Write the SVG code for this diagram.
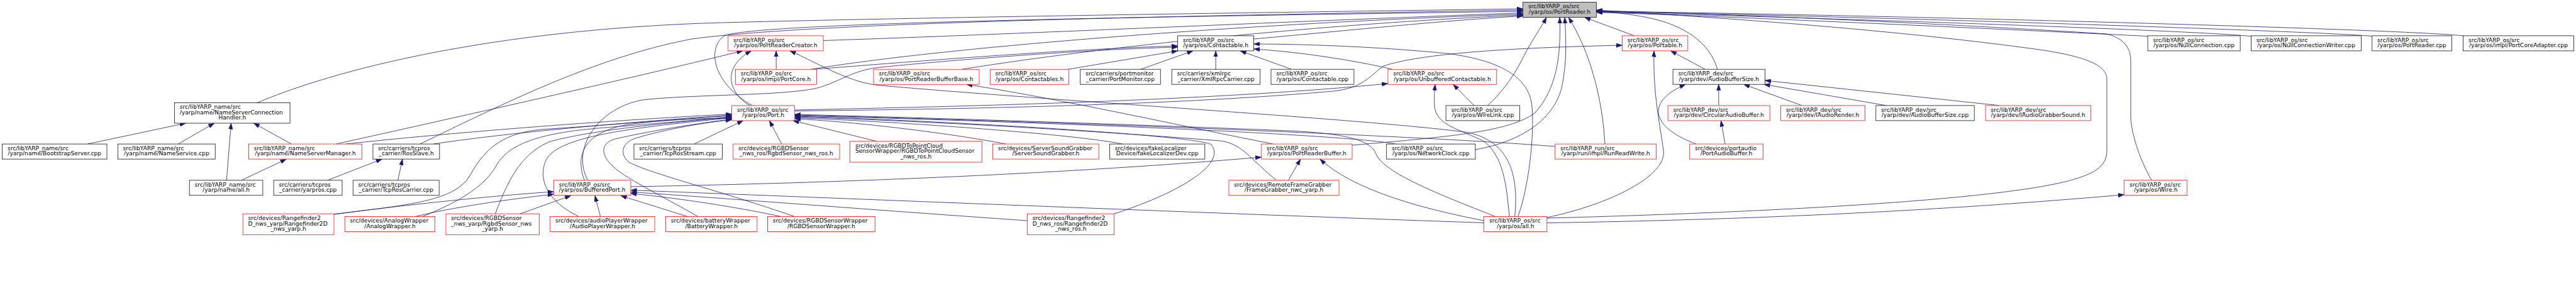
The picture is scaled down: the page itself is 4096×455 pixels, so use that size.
<svg xmlns="http://www.w3.org/2000/svg" width="4096" height="455" viewBox="0 0 4096 455">
<style>
.nd rect{fill:#fff;stroke-width:0.75}
.k rect{stroke:#000}
.r rect{stroke:#f00}
.g rect{fill:#bfbfbf;stroke:#000}
text{font-family:"DejaVu Sans",Verdana,sans-serif;font-size:9.15px;fill:#000}
.c{text-anchor:middle}
#edges path{fill:none;stroke:#191970;stroke-width:0.8;marker-end:url(#ah)}
</style>
<defs>
<marker id="ah" viewBox="0 0 10 7" refX="10" refY="3.5" markerWidth="9.6" markerHeight="6.7" markerUnits="userSpaceOnUse" orient="auto"><path d="M0,0 L10,3.5 L0,7 z" fill="#191970" stroke="#191970" stroke-width="0.5"/></marker>
</defs>
<rect x="0" y="0" width="4096" height="455" fill="#fff"/>
<g id="edges">
<path d="M408.5,163.6 C560,100 820,45 1150,36 S2150,18 2421.6,14"/>
<path d="M668,229.1 C800,165 950,90 1100,62 C1300,35 1900,25 2421.6,16"/>
<path d="M1196,167.9 C1138,135 1122,82 1150,58 C1180,35 1900,26 2421.6,18"/>
<path d="M1309.1,64.5 C1600,55 2100,32 2421.6,20.5"/>
<path d="M1290,110.2 C1500,75 2000,36 2421.6,22.5"/>
<path d="M1295,110.2 C1450,98 1700,78 1872.6,73"/>
<path d="M1234.2,110.2 L1234.2,80.9"/>
<path d="M1529.6,110.2 C1750,75 2100,38 2421.6,24"/>
<path d="M1699,110.2 L1872.6,80.9"/>
<path d="M1814,110.2 L1897,80.9"/>
<path d="M1933.1,110.2 L1933.1,80.9"/>
<path d="M2053.4,110.2 L1972,80.9"/>
<path d="M2214,110.2 C2150,95 2060,82 1993.6,78"/>
<path d="M1993.6,62 C2150,48 2300,32 2421.6,25.5"/>
<path d="M934.5,286.8 C905,230 960,165 1030,158 C1120,150 1230,152 1290,142 C1330,135 1350,112 1400,107 C1550,92 1750,78 1872.6,75"/>
<path d="M929.4,286.8 C915,250 925,210 1000,198 C1060,190 1120,188 1163.6,188.5"/>
<path d="M1002.9,297 C1400,290 1750,272 2005.8,250"/>
<path d="M139,229.1 L295.4,196"/>
<path d="M283.2,229.1 L340.8,196"/>
<path d="M360.2,286.8 L367.5,196"/>
<path d="M463.3,229.1 L403.5,196"/>
<path d="M384,286.8 L455.4,253.1"/>
<path d="M534.6,229.1 C800,170 1000,125 1181,80.9"/>
<path d="M549.7,229.1 C650,218 900,195 1163.6,181.5"/>
<path d="M689.5,229.1 C800,212 1000,194 1163.6,183"/>
<path d="M520.9,286.8 L607.4,253.1"/>
<path d="M632.6,286.8 L640,253.1"/>
<path d="M1103.8,229.1 L1181.6,191.9"/>
<path d="M1242.9,229.1 L1223.4,191.9"/>
<path d="M1394.1,224.8 L1261,191.9"/>
<path d="M1192,167.9 C1155,145 1150,105 1194.6,80.9"/>
<path d="M1263.7,175 C1600,168 1950,158 2206.9,133"/>
<path d="M1263.7,176.5 C1700,172 1950,160 2120,145 C2170,140 2180,118 2200,105 C2260,85 2400,76 2579.4,72"/>
<path d="M1599.5,229.1 C1500,210 1350,193 1263.7,189"/>
<path d="M1784.7,229.1 C1700,212 1400,192 1263.7,187.5"/>
<path d="M1771.7,340.1 C1880,305 1950,260 1926,230 C1900,215 1500,192 1263.7,185"/>
<path d="M2029.6,286.8 C1990,255 1975,228 1940,224 C1700,205 1450,192 1263.7,186"/>
<path d="M2048.5,286.8 L2067.9,253.1"/>
<path d="M2024.6,229.1 C1900,205 1700,160 1536.8,134.2"/>
<path d="M2150,231 C2300,218 2400,210 2440,180 C2478,140 2482,80 2480,27.6"/>
<path d="M2345.9,238 C2420,225 2470,190 2483,140 C2492,100 2490,60 2488,27.6"/>
<path d="M2219,229.1 C2150,215 1700,195 1263.7,184"/>
<path d="M2552,229.1 C2548,160 2530,85 2494,27.6"/>
<path d="M2472.7,233 C2250,215 1650,193 1263.7,183"/>
<path d="M2343.8,167.9 L2310.6,134.2"/>
<path d="M2365.4,167.9 C2385,150 2405,125 2420,95 C2435,65 2450,45 2459,27.6"/>
<path d="M2598.8,56.9 L2519.5,27.6"/>
<path d="M2711.2,110.2 L2656.5,80.9"/>
<path d="M2730.7,110.2 C2720,70 2680,40 2620,28 C2590,22 2560,19 2538.3,17.5"/>
<path d="M2732.8,167.9 L2732.8,134.2"/>
<path d="M2743,229.1 L2736.4,191.9"/>
<path d="M2696.8,229.1 C2620,200 2620,160 2680.2,134.2"/>
<path d="M2865.4,167.9 L2772.6,134.2"/>
<path d="M2999.4,167.9 L2804.9,134.2"/>
<path d="M3179.5,167.9 L2806.3,128"/>
<path d="M3415.1,57.6 C3300,52 2800,28 2538.3,19.5"/>
<path d="M3579.4,57.6 C3450,46 2800,26 2538.3,19"/>
<path d="M3771.8,57.6 C3700,50 2900,24 2538.3,18.5"/>
<path d="M3916.6,56.9 C3800,45 2900,22 2538.3,18"/>
<path d="M3421,286.8 C3395,240 3388,200 3388,185 L3388,96 C3388,75 3375,60 3350,54 C3100,38 2750,22 2538.3,17"/>
<path d="M2459.8,347 C2800,338 3150,320 3280,290 C3330,278 3350,265 3350,240 L3350,125 C3350,100 3300,88 3250,80 C3000,45 2700,26 2538.3,16"/>
<path d="M2459.8,354.5 C2900,348 3200,325 3377.7,309.8"/>
<path d="M2459.8,346 C2560,325 2650,280 2645,240 C2640,200 2628,150 2630,80.9"/>
<path d="M2413.7,344.4 C2430,300 2440,220 2436,170 C2432,120 2380,95 2300,85 C2200,75 2080,70 1993.6,70"/>
<path d="M2400,344.4 C2395,290 2390,250 2360,225 C2320,205 2285,200 2281,170 C2280,155 2281,145 2282,134.2"/>
<path d="M2408.6,344.4 C2416,270 2395,222 2330,210 C2150,188 1700,162 1400,136 C1350,132 1300,100 1256,80.9"/>
<path d="M2377.6,344.4 C2290,310 2200,275 2188,245 C2180,225 2150,213 2050,208 C1800,198 1500,188 1263.7,182"/>
<path d="M2359.6,351 C2250,330 2150,300 2098.8,253.1"/>
<path d="M2359.6,354.5 C2000,342 1400,318 1002.9,302.5"/>
<path d="M1633.4,351 C1400,335 1150,315 1002.9,305.5"/>
<path d="M1241.4,344.4 C1150,325 1050,312 1002.9,308"/>
<path d="M1263,344.4 C1150,305 1030,275 1000,258 C985,245 988,228 1010,220 C1060,205 1120,195 1163.6,190.5"/>
<path d="M1093,344.4 L987,311.3"/>
<path d="M1109.6,344.4 C1050,310 990,282 972,262 C955,245 955,228 978,221 C1050,205 1120,195 1163.6,189.5"/>
<path d="M531,341 C650,325 800,310 880.4,305"/>
<path d="M531,340.8 C650,326 725,320 748,278 C771,236 800,212 860,206 C950,200 1080,190 1163.6,184"/>
<path d="M660.7,344.4 C720,330 800,318 880.4,309"/>
<path d="M672,344.4 C720,325 770,300 790,262 C810,228 860,212 950,204 C1050,196 1120,190 1163.6,185.5"/>
<path d="M827.1,340.1 L907.8,311.3"/>
<path d="M787.5,340.1 C805,295 825,245 875,225 C950,205 1080,194 1163.6,186.5"/>
<path d="M954.7,344.4 L946,311.3"/>
<path d="M920,344.4 C870,320 855,285 868,255 C885,220 980,205 1163.6,187.5"/>
</g>
<g id="n_root" class="nd g"><rect x="2421.6" y="3.6" width="116.7" height="24"/><text><tspan x="2429.9" y="13.4">src/libYARP_os/src</tspan><tspan class="c" x="2480" y="21.9">/yarp/os/PortReader.h</tspan></text></g>
<g id="n_prc" class="nd r"><rect x="1157.8" y="56.9" width="151.3" height="24"/><text><tspan x="1166.1" y="66.7">src/libYARP_os/src</tspan><tspan class="c" x="1233.5" y="75.2">/yarp/os/PortReaderCreator.h</tspan></text></g>
<g id="n_contactable_h" class="nd k"><rect x="1872.6" y="56.9" width="121" height="24"/><text><tspan x="1880.9" y="66.7">src/libYARP_os/src</tspan><tspan class="c" x="1933.1" y="75.2">/yarp/os/Contactable.h</tspan></text></g>
<g id="n_portable" class="nd r"><rect x="2579.4" y="56.9" width="104.4" height="24"/><text><tspan x="2587.7" y="66.7">src/libYARP_os/src</tspan><tspan class="c" x="2631.6" y="75.2">/yarp/os/Portable.h</tspan></text></g>
<g id="n_nullconn" class="nd k"><rect x="3415.1" y="56.9" width="147" height="24"/><text><tspan x="3423.4" y="66.7">src/libYARP_os/src</tspan><tspan class="c" x="3488.6" y="75.2">/yarp/os/NullConnection.cpp</tspan></text></g>
<g id="n_ncw" class="nd k"><rect x="3579.4" y="56.9" width="175.1" height="24"/><text><tspan x="3587.7" y="66.7">src/libYARP_os/src</tspan><tspan class="c" x="3667" y="75.2">/yarp/os/NullConnectionWriter.cpp</tspan></text></g>
<g id="n_portreader_cpp" class="nd k"><rect x="3771.8" y="56.9" width="126.8" height="24"/><text><tspan x="3780.1" y="66.7">src/libYARP_os/src</tspan><tspan class="c" x="3835.2" y="75.2">/yarp/os/PortReader.cpp</tspan></text></g>
<g id="n_pca" class="nd k"><rect x="3916.6" y="56.9" width="175.8" height="24"/><text><tspan x="3924.9" y="66.7">src/libYARP_os/src</tspan><tspan class="c" x="4004.5" y="75.2">/yarp/os/impl/PortCoreAdapter.cpp</tspan></text></g>
<g id="n_portcore" class="nd r"><rect x="1169.4" y="110.2" width="129" height="24"/><text><tspan x="1177.7" y="120">src/libYARP_os/src</tspan><tspan class="c" x="1233.9" y="128.5">/yarp/os/impl/PortCore.h</tspan></text></g>
<g id="n_prbb" class="nd r"><rect x="1389.1" y="110.2" width="167.9" height="24"/><text><tspan x="1397.4" y="120">src/libYARP_os/src</tspan><tspan class="c" x="1473.1" y="128.5">/yarp/os/PortReaderBufferBase.h</tspan></text></g>
<g id="n_contactables" class="nd r"><rect x="1574.3" y="110.2" width="125.4" height="24"/><text><tspan x="1582.6" y="120">src/libYARP_os/src</tspan><tspan class="c" x="1637" y="128.5">/yarp/os/Contactables.h</tspan></text></g>
<g id="n_portmonitor" class="nd k"><rect x="1717.7" y="110.2" width="127.5" height="24"/><text><tspan x="1726" y="120">src/carriers/portmonitor</tspan><tspan class="c" x="1781.5" y="128.5">_carrier/PortMonitor.cpp</tspan></text></g>
<g id="n_xmlrpc" class="nd k"><rect x="1863.2" y="110.2" width="140.5" height="24"/><text><tspan x="1871.5" y="120">src/carriers/xmlrpc</tspan><tspan class="c" x="1933.5" y="128.5">_carrier/XmlRpcCarrier.cpp</tspan></text></g>
<g id="n_contactable_cpp" class="nd k"><rect x="2021" y="110.2" width="131.9" height="24"/><text><tspan x="2029.3" y="120">src/libYARP_os/src</tspan><tspan class="c" x="2087" y="128.5">/yarp/os/Contactable.cpp</tspan></text></g>
<g id="n_unbuffered" class="nd r"><rect x="2206.9" y="110.2" width="172.9" height="24"/><text><tspan x="2215.2" y="120">src/libYARP_os/src</tspan><tspan class="c" x="2293.4" y="128.5">/yarp/os/UnbufferedContactable.h</tspan></text></g>
<g id="n_abs_h" class="nd k"><rect x="2660.1" y="110.2" width="146.3" height="24"/><text><tspan x="2668.4" y="120">src/libYARP_dev/src</tspan><tspan class="c" x="2733.3" y="128.5">/yarp/dev/AudioBufferSize.h</tspan></text></g>
<g id="n_nsch" class="nd k"><rect x="277.4" y="163.6" width="183.7" height="32.4"/><text><tspan x="285.7" y="173.3">src/libYARP_name/src</tspan><tspan x="285.7" y="181.8">/yarp/name/NameServerConnection</tspan><tspan class="c" x="369.3" y="190.3">Handler.h</tspan></text></g>
<g id="n_port" class="nd r"><rect x="1163.6" y="167.9" width="100.1" height="24"/><text><tspan x="1171.9" y="177.7">src/libYARP_os/src</tspan><tspan class="c" x="1213.7" y="186.2">/yarp/os/Port.h</tspan></text></g>
<g id="n_wirelink" class="nd k"><rect x="2299.1" y="167.9" width="117.4" height="24"/><text><tspan x="2307.4" y="177.7">src/libYARP_os/src</tspan><tspan class="c" x="2357.8" y="186.2">/yarp/os/WireLink.cpp</tspan></text></g>
<g id="n_circ" class="nd r"><rect x="2652.1" y="167.9" width="162.1" height="24"/><text><tspan x="2660.4" y="177.7">src/libYARP_dev/src</tspan><tspan class="c" x="2733.2" y="186.2">/yarp/dev/CircularAudioBuffer.h</tspan></text></g>
<g id="n_iaudiorender" class="nd r"><rect x="2831.5" y="167.9" width="134" height="24"/><text><tspan x="2839.8" y="177.7">src/libYARP_dev/src</tspan><tspan class="c" x="2898.5" y="186.2">/yarp/dev/IAudioRender.h</tspan></text></g>
<g id="n_abs_cpp" class="nd k"><rect x="2982.8" y="167.9" width="156.4" height="24"/><text><tspan x="2991.1" y="177.7">src/libYARP_dev/src</tspan><tspan class="c" x="3061" y="186.2">/yarp/dev/AudioBufferSize.cpp</tspan></text></g>
<g id="n_iags" class="nd r"><rect x="3157.2" y="167.9" width="167.1" height="24"/><text><tspan x="3165.5" y="177.7">src/libYARP_dev/src</tspan><tspan class="c" x="3240.8" y="186.2">/yarp/dev/IAudioGrabberSound.h</tspan></text></g>
<g id="n_bootstrap" class="nd k"><rect x="3.6" y="229.1" width="166.4" height="24"/><text><tspan x="11.9" y="238.9">src/libYARP_name/src</tspan><tspan class="c" x="86.8" y="247.4">/yarp/name/BootstrapServer.cpp</tspan></text></g>
<g id="n_nameservice" class="nd k"><rect x="187.3" y="229.1" width="154.9" height="24"/><text><tspan x="195.6" y="238.9">src/libYARP_name/src</tspan><tspan class="c" x="264.8" y="247.4">/yarp/name/NameService.cpp</tspan></text></g>
<g id="n_nsm" class="nd r"><rect x="395.5" y="229.1" width="180.2" height="24"/><text><tspan x="403.8" y="238.9">src/libYARP_name/src</tspan><tspan class="c" x="485.6" y="247.4">/yarp/name/NameServerManager.h</tspan></text></g>
<g id="n_rosslave" class="nd k"><rect x="593" y="229.1" width="105.9" height="24"/><text><tspan x="601.3" y="238.9">src/carriers/tcpros</tspan><tspan class="c" x="646" y="247.4">_carrier/RosSlave.h</tspan></text></g>
<g id="n_tcprosstream" class="nd k"><rect x="1008" y="229.1" width="140.5" height="24"/><text><tspan x="1016.3" y="238.9">src/carriers/tcpros</tspan><tspan class="c" x="1078.3" y="247.4">_carrier/TcpRosStream.cpp</tspan></text></g>
<g id="n_rgbd_nws_ros" class="nd r"><rect x="1165.8" y="229.1" width="169.3" height="24"/><text><tspan x="1174.1" y="238.9">src/devices/RGBDSensor</tspan><tspan class="c" x="1250.5" y="247.4">_nws_ros/RgbdSensor_nws_ros.h</tspan></text></g>
<g id="n_rgbd2pc" class="nd r"><rect x="1351.6" y="224.8" width="209.7" height="33.2"/><text><tspan x="1359.9" y="234.9">src/devices/RGBDToPointCloud</tspan><tspan x="1359.9" y="243.4">SensorWrapper/RGBDToPointCloudSensor</tspan><tspan class="c" x="1456.5" y="251.9">_nws_ros.h</tspan></text></g>
<g id="n_ssg" class="nd r"><rect x="1578.6" y="229.1" width="168.6" height="24"/><text><tspan x="1586.9" y="238.9">src/devices/ServerSoundGrabber</tspan><tspan class="c" x="1662.9" y="247.4">/ServerSoundGrabber.h</tspan></text></g>
<g id="n_fakeloc" class="nd k"><rect x="1764.5" y="229.1" width="151.3" height="24"/><text><tspan x="1772.8" y="238.9">src/devices/fakeLocalizer</tspan><tspan class="c" x="1840.2" y="247.4">Device/fakeLocalizerDev.cpp</tspan></text></g>
<g id="n_prb" class="nd r"><rect x="2005.8" y="229.1" width="144.2" height="24"/><text><tspan x="2014.1" y="238.9">src/libYARP_os/src</tspan><tspan class="c" x="2077.9" y="247.4">/yarp/os/PortReaderBuffer.h</tspan></text></g>
<g id="n_netclock" class="nd k"><rect x="2204.7" y="229.1" width="141.2" height="24"/><text><tspan x="2213" y="238.9">src/libYARP_os/src</tspan><tspan class="c" x="2275.3" y="247.4">/yarp/os/NetworkClock.cpp</tspan></text></g>
<g id="n_runrw" class="nd r"><rect x="2472.7" y="229.1" width="160.7" height="24"/><text><tspan x="2481" y="238.9">src/libYARP_run/src</tspan><tspan class="c" x="2553.1" y="247.4">/yarp/run/impl/RunReadWrite.h</tspan></text></g>
<g id="n_pab" class="nd r"><rect x="2686.7" y="229.1" width="116.7" height="24"/><text><tspan x="2695" y="238.9">src/devices/portaudio</tspan><tspan class="c" x="2745.1" y="247.4">/PortAudioBuffer.h</tspan></text></g>
<g id="n_name_all" class="nd k"><rect x="301.2" y="286.8" width="116.7" height="24"/><text><tspan x="309.5" y="296.6">src/libYARP_name/src</tspan><tspan class="c" x="359.6" y="305.1">/yarp/name/all.h</tspan></text></g>
<g id="n_yarpros" class="nd k"><rect x="435.2" y="286.8" width="108.8" height="24"/><text><tspan x="443.5" y="296.6">src/carriers/tcpros</tspan><tspan class="c" x="489.6" y="305.1">_carrier/yarpros.cpp</tspan></text></g>
<g id="n_tcproscarrier" class="nd k"><rect x="561.3" y="286.8" width="136.9" height="24"/><text><tspan x="569.6" y="296.6">src/carriers/tcpros</tspan><tspan class="c" x="629.8" y="305.1">_carrier/TcpRosCarrier.cpp</tspan></text></g>
<g id="n_bufferedport" class="nd r"><rect x="880.4" y="286.8" width="122.5" height="24"/><text><tspan x="888.7" y="296.6">src/libYARP_os/src</tspan><tspan class="c" x="941.7" y="305.1">/yarp/os/BufferedPort.h</tspan></text></g>
<g id="n_framegrabber" class="nd r"><rect x="1954" y="286.8" width="175.1" height="24"/><text><tspan x="1962.3" y="296.6">src/devices/RemoteFrameGrabber</tspan><tspan class="c" x="2041.6" y="305.1">/FrameGrabber_nwc_yarp.h</tspan></text></g>
<g id="n_wire" class="nd r"><rect x="3377.7" y="286.8" width="100.1" height="24"/><text><tspan x="3386" y="296.6">src/libYARP_os/src</tspan><tspan class="c" x="3427.8" y="305.1">/yarp/os/Wire.h</tspan></text></g>
<g id="n_rf2d_yarp" class="nd r"><rect x="386.2" y="340.1" width="144.8" height="33.2"/><text><tspan x="394.5" y="350.2">src/devices/Rangefinder2</tspan><tspan x="394.5" y="358.7">D_nws_yarp/Rangefinder2D</tspan><tspan class="c" x="458.6" y="367.2">_nws_yarp.h</tspan></text></g>
<g id="n_analog" class="nd r"><rect x="548.3" y="344.4" width="143.4" height="24"/><text><tspan x="556.6" y="354.2">src/devices/AnalogWrapper</tspan><tspan class="c" x="620" y="362.7">/AnalogWrapper.h</tspan></text></g>
<g id="n_rgbd_nws_yarp" class="nd r"><rect x="709" y="340.1" width="148.4" height="33.2"/><text><tspan x="717.3" y="350.2">src/devices/RGBDSensor</tspan><tspan x="717.3" y="358.7">_nws_yarp/RgbdSensor_nws</tspan><tspan class="c" x="783.2" y="367.2">_yarp.h</tspan></text></g>
<g id="n_audioplayer" class="nd r"><rect x="874.7" y="344.4" width="166.4" height="24"/><text><tspan x="883" y="354.2">src/devices/audioPlayerWrapper</tspan><tspan class="c" x="957.9" y="362.7">/AudioPlayerWrapper.h</tspan></text></g>
<g id="n_battery" class="nd r"><rect x="1058.4" y="344.4" width="145.5" height="24"/><text><tspan x="1066.7" y="354.2">src/devices/batteryWrapper</tspan><tspan class="c" x="1131.2" y="362.7">/BatteryWrapper.h</tspan></text></g>
<g id="n_rgbdsw" class="nd r"><rect x="1220.5" y="344.4" width="170.8" height="24"/><text><tspan x="1228.8" y="354.2">src/devices/RGBDSensorWrapper</tspan><tspan class="c" x="1305.9" y="362.7">/RGBDSensorWrapper.h</tspan></text></g>
<g id="n_rf2d_ros" class="nd r"><rect x="1633.4" y="340.1" width="138.3" height="33.2"/><text><tspan x="1641.7" y="350.2">src/devices/Rangefinder2</tspan><tspan x="1641.7" y="358.7">D_nws_ros/Rangefinder2D</tspan><tspan class="c" x="1702.6" y="367.2">_nws_ros.h</tspan></text></g>
<g id="n_os_all" class="nd r"><rect x="2359.6" y="344.4" width="100.2" height="24"/><text><tspan x="2367.9" y="354.2">src/libYARP_os/src</tspan><tspan class="c" x="2409.7" y="362.7">/yarp/os/all.h</tspan></text></g>
</svg>
